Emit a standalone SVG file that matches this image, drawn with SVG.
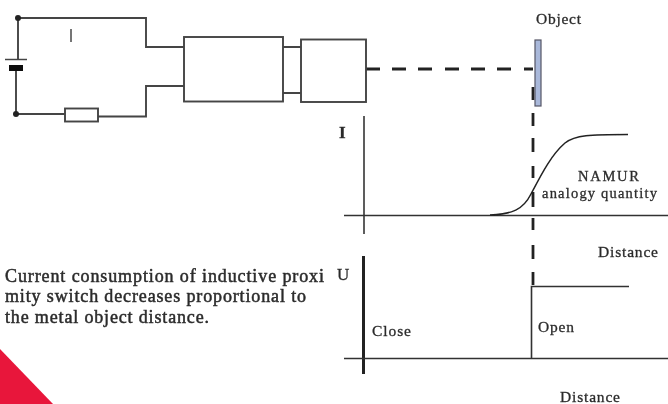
<svg xmlns="http://www.w3.org/2000/svg" width="668" height="404" viewBox="0 0 668 404">
<defs><filter id="soft" x="0" y="0" width="100%" height="100%"><feGaussianBlur stdDeviation="0.45"/></filter></defs>
<style>
.w{fill:none;stroke:#444;stroke-width:1.9}
.b{fill:#fff;stroke:#444;stroke-width:1.9}
.ax{fill:none;stroke:#333;stroke-width:1.6}
.d{fill:none;stroke:#222;stroke-width:2.8}
text{font-family:"Liberation Serif",serif;fill:#2c2c2c;stroke:#2c2c2c;stroke-width:.3}
.s{font-size:15.500px}
.n{font-size:14.500px}
.p{font-size:18px;stroke-width:.5}
</style>
<rect width="668" height="404" fill="#fff"/>
<g filter="url(#soft)">
<polygon points="0,349 53,404 0,404" fill="#e8173a"/>
<g id="connectors">
<path class="w" d="M18 18H146V47H184"/>
<path class="w" d="M18 18V59M16 114V68"/>
<path class="w" d="M16 114H65M98 116.500H146V86H184"/>
<path class="w" d="M283 47H301M283 93H301"/>
<path class="d" d="M366 69H380M392 69H406M418 69H432M445 69H459M471 69H485M497 69H511M524 69H533"/>
<path class="d" d="M533 87V100M533 113V126M533 138V152M533 166V178M533 192V207M533 218V230M533 245V259M533 272V285"/>
<path class="ax" d="M364 116V234"/>
<path class="ax" d="M344 215.500H668"/>
<path d="M490 215C512 214 523 210 531 194C541 175 551 155 565 143C575 135 590 134.500 628 134.500" fill="none" stroke="#222" stroke-width="1.500"/>
<path d="M363.500 256V374" fill="none" stroke="#222" stroke-width="3"/>
<path class="ax" d="M344 358.500H668"/>
<path class="ax" d="M531.500 358V286.500H629"/>
</g>
<g id="battery">
<path d="M5 59.500H27" stroke="#444" stroke-width="1.500"/>
<rect x="9" y="65" width="14" height="6" fill="#111"/>
</g>
<g id="junction-top"><circle cx="18" cy="18" r="3" fill="#222"/></g>
<g id="junction-bottom"><circle cx="16" cy="114" r="3" fill="#222"/></g>
<g id="current-label"><path d="M71 29V42" stroke="#666" stroke-width="1.800"/></g>
<g id="resistor"><rect class="b" x="65" y="108.500" width="33" height="13"/></g>
<g id="block-1"><rect class="b" x="184" y="37" width="99" height="64.500"/></g>
<g id="block-2"><rect class="b" x="301" y="39.500" width="65" height="62.500"/></g>
<g id="object"><rect x="535" y="40" width="6" height="66" fill="#a9b8da" stroke="#556" stroke-width="1.200"/><text class="s" x="536" y="24" textLength="45">Object</text></g>
<g id="labels">
<text x="339" y="138" font-size="17" font-weight="bold">I</text>
<text x="337" y="280" font-size="17">U</text>
<text class="n" x="578" y="181" textLength="61">NAMUR</text>
<text class="n" x="542" y="198" textLength="115">analogy quantity</text>
<text class="s" x="598" y="257" textLength="60">Distance</text>
<text class="s" x="372" y="336" textLength="39">Close</text>
<text class="s" x="538" y="332" textLength="36">Open</text>
<text class="s" x="560" y="402" textLength="60">Distance</text>
<text class="p" x="5" y="282" textLength="319">Current consumption of inductive proxi</text>
<text class="p" x="5" y="302" textLength="301">mity switch decreases proportional to</text>
<text class="p" x="5" y="323" textLength="204">the metal object distance.</text>
</g>
</g>
</svg>
